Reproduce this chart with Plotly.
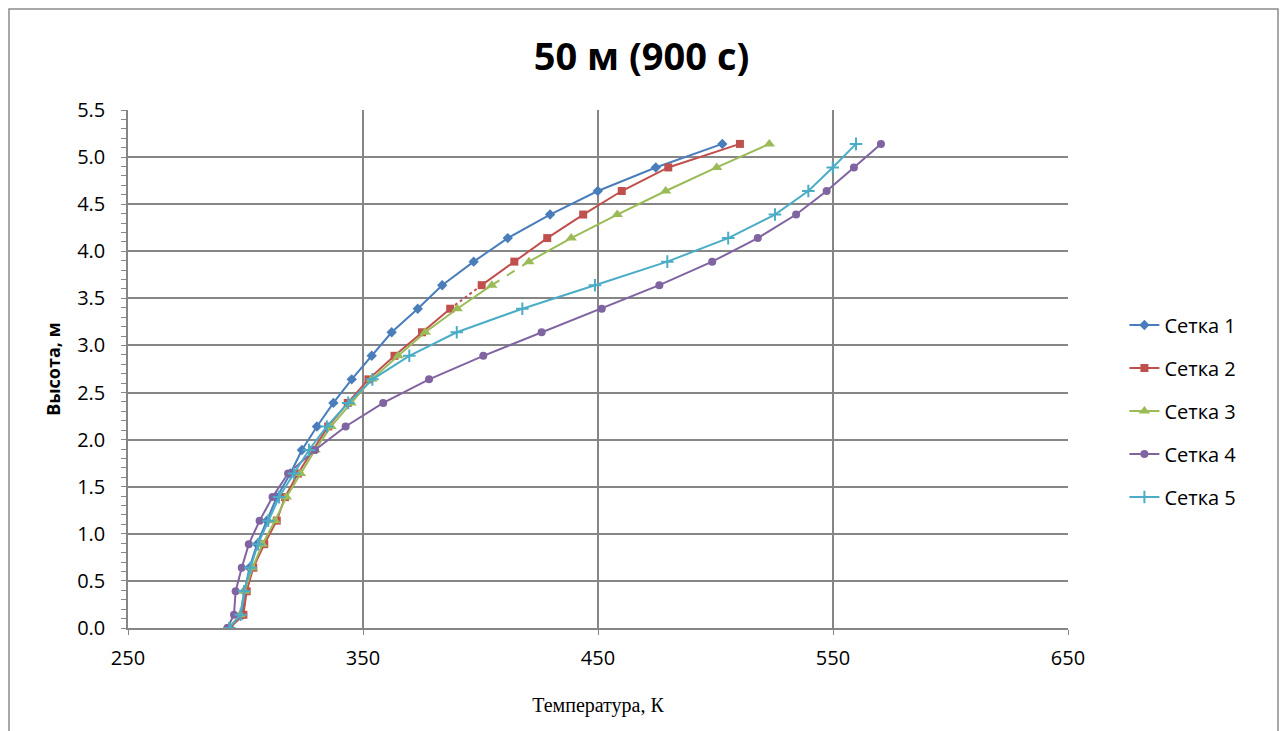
import plotly.graph_objects as go

heights = [0.0, 0.14, 0.39, 0.64, 0.89, 1.14, 1.39, 1.64, 1.89, 2.14, 2.39,
           2.64, 2.89, 3.14, 3.39, 3.64, 3.89, 4.14, 4.39, 4.64, 4.89, 5.14]

grid1 = [293.1, 298.7, 299.6, 301.7, 304.9, 309.1, 313.3, 319.1, 324.0, 330.4, 337.4,
         345.2, 353.7, 362.2, 373.3, 383.7, 397.1, 411.6, 429.6, 449.9, 474.6, 502.9]
grid2 = [293.2, 299.1, 300.5, 303.3, 308.0, 313.3, 316.8, 322.3, 328.7, 335.2, 343.5,
         352.3, 363.4, 375.1, 387.1, 400.5, 414.4, 428.4, 443.7, 460.1, 479.9, 510.4]
grid3 = [292.8, 297.7, 299.6, 303.0, 307.2, 312.6, 317.4, 323.4, 329.6, 336.4, 344.9,
         353.7, 365.0, 376.5, 390.1, 404.8, 420.6, 438.6, 458.2, 478.8, 500.5, 522.9]
grid4 = [292.3, 295.1, 295.8, 298.4, 301.4, 306.0, 311.5, 318.1, 329.6, 342.6, 358.6,
         378.1, 401.2, 426.0, 451.6, 476.1, 498.6, 518.0, 534.3, 547.3, 558.9, 570.4]
grid5 = [293.1, 297.9, 299.4, 302.1, 305.3, 309.7, 314.3, 320.6, 327.0, 334.6, 343.7,
         354.0, 369.7, 389.9, 417.8, 448.7, 479.5, 505.4, 525.3, 539.5, 549.9, 559.8]

names = ["Сетка 1", "Сетка 2", "Сетка 3", "Сетка 4", "Сетка 5"]
colors = ["#4A7EBB", "#C0504D", "#9BBB59", "#8064A2", "#4BACC6"]
symbols = ["diamond", "square", "triangle-up", "circle", "cross-thin"]
sizes = [8, 8, 10, 8, 9]
# segment (start index) drawn with a broken line style, per series
special = [None, (14, "dot"), (15, "dash"), None, None]

fig = go.Figure()
series = [grid1, grid2, grid3, grid4, grid5]
for i, (xs, name) in enumerate(zip(series, names)):
    xs_plot = list(xs)
    ys_plot = list(heights)
    sp = special[i]
    if sp is not None:
        k = sp[0]
        xs_plot = xs[:k + 1] + [None] + xs[k + 1:]
        ys_plot = heights[:k + 1] + [None] + heights[k + 1:]
    marker = dict(symbol=symbols[i], size=sizes[i], color=colors[i])
    if symbols[i] == "cross-thin":
        marker["line"] = dict(color=colors[i], width=2)
    fig.add_trace(go.Scatter(
        x=xs_plot, y=ys_plot, name=name, mode="lines+markers",
        line=dict(color=colors[i], width=2), marker=marker,
        connectgaps=False, legendgroup=name))
    if sp is not None:
        k = sp[0]
        fig.add_trace(go.Scatter(
            x=xs[k:k + 2], y=heights[k:k + 2], mode="lines",
            line=dict(color=colors[i], width=2, dash=sp[1]),
            showlegend=False, hoverinfo="skip", legendgroup=name))

grid_color = "#868686"
fig.update_layout(
    width=1283, height=731,
    margin=dict(l=128, r=215, t=110, b=103),
    paper_bgcolor="white", plot_bgcolor="white",
    title=dict(text="<b>50 м (900 с)</b>", x=0.5, xref="container", xanchor="center",
               y=1 - 57 / 731, yref="container", yanchor="middle",
               font=dict(family="Open Sans", size=38, color="black")),
    xaxis=dict(range=[250, 650], dtick=100, tick0=250, showgrid=True,
               gridcolor=grid_color, gridwidth=2, showline=True, linecolor=grid_color,
               linewidth=1.5, ticks="outside", ticklen=5, tickcolor=grid_color,
               ticklabelstandoff=6,
               tickfont=dict(family="Open Sans", size=20, color="black"), zeroline=False,
               title=dict(text="Температура, К", standoff=28,
                          font=dict(family="Liberation Serif", size=20, color="black"))),
    yaxis=dict(range=[0, 5.5], dtick=0.5, tickformat=".1f", showgrid=True,
               gridcolor=grid_color, gridwidth=2, showline=True, linecolor=grid_color,
               linewidth=1.5, ticks="outside", ticklen=5, tickcolor=grid_color,
               ticklabelstandoff=12,
               minor=dict(dtick=0.1, ticks="outside", ticklen=5, tickcolor=grid_color,
                          showgrid=False),
               tickfont=dict(family="Open Sans", size=20, color="black"), zeroline=False,
               title=dict(text="<b>Высота, м</b>", standoff=12,
                          font=dict(family="Open Sans", size=18, color="black"))),
    legend=dict(x=1.06, xanchor="left", y=0.419, yanchor="middle",
                font=dict(family="Open Sans", size=20, color="black"),
                traceorder="grouped", tracegroupgap=14, bgcolor="rgba(0,0,0,0)"),
    shapes=[dict(type="rect", xref="paper", yref="paper",
                 x0=(9 - 128) / 940, x1=(1278 - 128) / 940,
                 y0=(628 - 760) / 518, y1=(628 - 9) / 518,
                 line=dict(color="#8C8C8C", width=1.5), fillcolor="rgba(0,0,0,0)",
                 layer="below")],
)

fig.write_html("out.html")
